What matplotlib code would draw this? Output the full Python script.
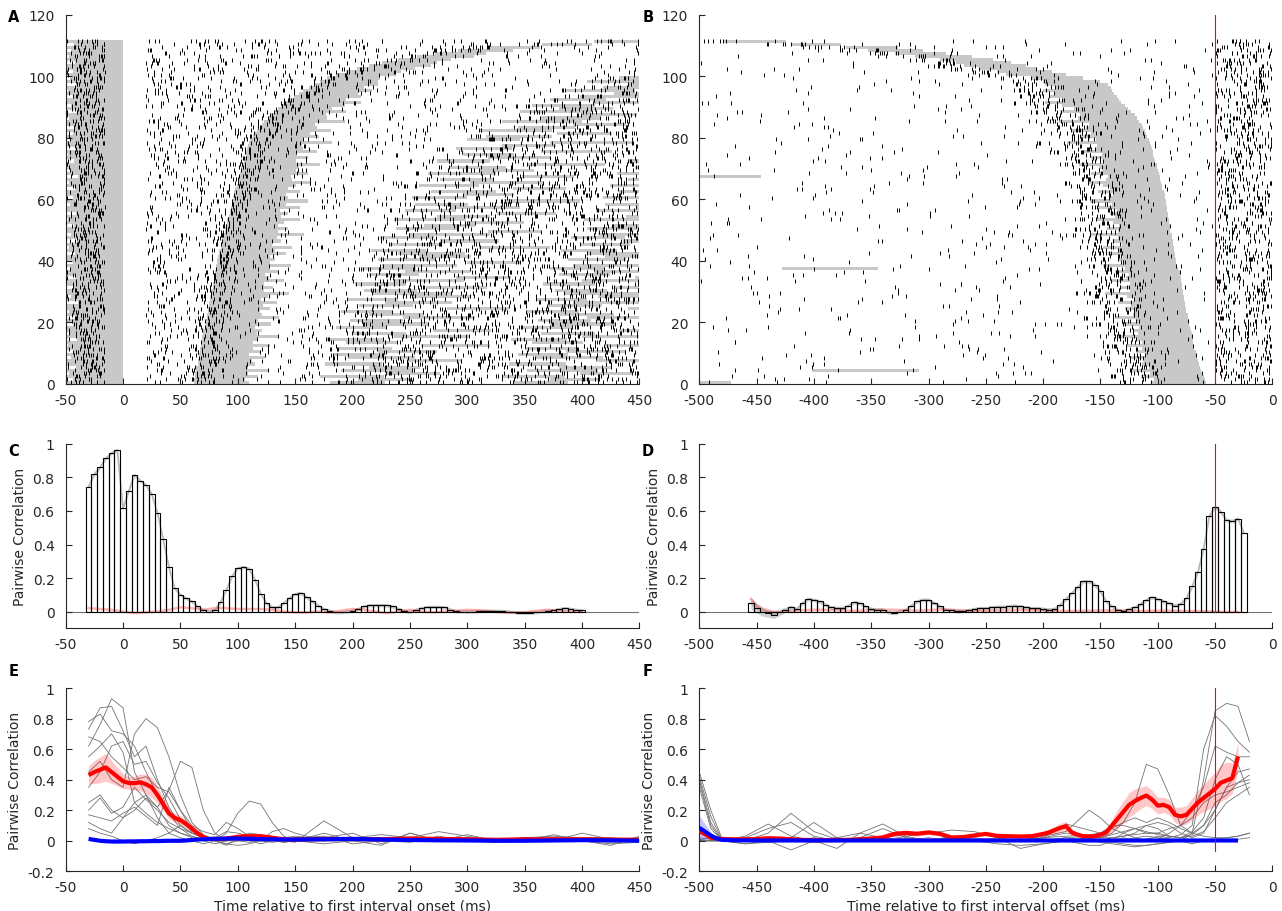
import numpy as np
import matplotlib
matplotlib.use("Agg")
import matplotlib.pyplot as plt
from matplotlib.collections import LineCollection
from matplotlib.ticker import FuncFormatter

plt.rcParams["font.family"] = ["DejaVu Sans"]
plt.rcParams["axes.unicode_minus"] = False

# ---------------------------------------------------------------- raster A
# per-trial start of the preceding (gray) interval, ms
prev_start_a = [-50, -44, -50, -47, -50, -41, -50, -50, -45, -50,
                -43, -50, -48, -50, -40, -50, -46, -50, -50, -44,
                -50, -42, -50, -47, -50, -50, -39, -50, -45, -50,
                -50, -43, -50, -48, -41, -50, -50, -46, -50, -44,
                -50, -50, -42, -50, -47, -50, -40, -50, -45, -50,
                -50, -43, -50, -48, -50, -41, -50, -50, -46, -50,
                -44, -50, -50, -42, -50, -47, -50, -39, -50, -45,
                -50, -50, -43, -50, -48, -50, -41, -50, -50, -46,
                -50, -44, -50, -42, -50, -50, -47, -50, -40, -50,
                -45, -50, -50, -43, -50, -48, -50, -41, -50, -46,
                -50, -44, -50, -50, -42, -50, -47, -50, -45, -50,
                -43, -50]
# per-trial onset of the next interval, ms
band_onset_a = [62, 62, 63, 63, 64, 64, 65, 65, 66, 66,
                67, 67, 68, 68, 69, 69, 70, 70, 71, 72,
                72, 73, 73, 74, 74, 75, 75, 76, 76, 77,
                77, 78, 78, 79, 79, 80, 80, 81, 81, 82,
                82, 83, 84, 84, 85, 86, 86, 87, 88, 89,
                89, 90, 91, 91, 92, 93, 93, 94, 95, 95,
                96, 97, 97, 98, 99, 100, 100, 101, 102, 103,
                103, 104, 105, 106, 107, 107, 108, 109, 110, 111,
                113, 115, 117, 119, 121, 123, 126, 129, 132, 135,
                138, 141, 145, 149, 153, 157, 162, 167, 172, 178,
                186, 194, 204, 214, 226, 240, 256, 272, 292, 318,
                365, 410]
# per-trial interval length, ms
band_len = [48, 44, 55, 46, 62, 45, 50, 47, 58, 44,
            52, 46, 60, 45, 49, 66, 47, 51, 44, 57,
            46, 63, 48, 45, 54, 47, 59, 44, 50, 68,
            46, 53, 45, 61, 48, 44, 56, 47, 65, 46,
            50, 45, 58, 48, 62, 44, 52, 47, 70, 46,
            55, 45, 49, 63, 46, 51, 44, 60, 47, 66,
            48, 45, 57, 46, 52, 64, 47, 45, 59, 48,
            50, 68, 46, 55, 45, 62, 49, 47, 72, 46,
            58, 48, 64, 50, 46, 70, 52, 48, 62, 47,
            55, 66, 49, 58, 52, 60, 48, 55, 50, 46,
            52, 48, 50, 54, 48, 46, 50, 44, 48, 45,
            44, 55]
# per-trial onsets of the two following intervals, ms (460 = outside window)
band2_onset_a = [180, 205, 172, 230, 190, 214, 176, 248, 196, 184,
                 222, 188, 260, 194, 178, 236, 200, 270, 186, 210,
                 198, 244, 214, 190, 282, 206, 228, 196, 252, 218,
                 210, 264, 202, 236, 290, 214, 246, 208, 226, 300,
                 222, 258, 240, 216, 310, 232, 276, 224, 250, 318,
                 238, 262, 300, 236, 274, 326, 246, 286, 254, 332,
                 252, 296, 268, 340, 258, 302, 276, 348, 266, 310,
                 284, 352, 274, 318, 296, 364, 290, 330, 372, 300,
                 316, 378, 310, 344, 392, 330, 364, 400, 346, 380,
                 356, 410, 372, 398, 428, 386, 418, 440, 404, 432,
                 460, 460, 460, 460, 460, 460, 460, 460, 460, 460,
                 460, 460]
band3_onset_a = [340, 372, 330, 398, 352, 380, 336, 412, 360, 344,
                 386, 350, 420, 356, 338, 400, 364, 432, 348, 372,
                 362, 404, 380, 352, 440, 370, 392, 360, 414, 384,
                 376, 428, 366, 400, 446, 380, 410, 372, 392, 455,
                 388, 420, 404, 382, 460, 398, 436, 390, 414, 460,
                 404, 426, 460, 402, 438, 460, 412, 448, 420, 460,
                 418, 458, 432, 460, 424, 460, 440, 460, 430, 460,
                 446, 460, 440, 460, 460, 460, 456, 460, 460, 460,
                 460, 460, 460, 460, 460, 460, 460, 460, 460, 460,
                 460, 460, 460, 460, 460, 460, 460, 460, 460, 460,
                 460, 460, 460, 460, 460, 460, 460, 460, 460, 460,
                 460, 460]

# ---------------------------------------------------------------- raster B
# per-trial offset of the first interval, ms (sorted trials)
band_offset_b = [-58, -59, -60, -61, -62, -63, -64, -65, -66, -67,
                 -67, -68, -68, -69, -69, -70, -70, -71, -72, -73,
                 -73, -74, -74, -75, -75, -76, -76, -77, -77, -78,
                 -78, -79, -79, -80, -80, -81, -81, -82, -83, -84,
                 -84, -85, -85, -86, -86, -87, -87, -88, -88, -89,
                 -89, -89, -90, -90, -91, -91, -92, -92, -93, -93,
                 -94, -94, -95, -96, -96, -97, -98, -98, -99, -100,
                 -101, -101, -102, -103, -104, -104, -105, -106, -107, -108,
                 -109, -110, -111, -113, -114, -116, -118, -120, -123, -126,
                 -129, -132, -134, -136, -138, -140, -141, -143, -150, -165,
                 -180, -192, -205, -215, -228, -244, -262, -285, -305, -327,
                 -376, -424]
extra_trial_b = [1, 5, 38, 68]
extra_start_b = [-500, -402, -428, -500]
extra_end_b = [-472, -308, -344, -446]

# spike densities (spikes per ms) for each epoch of a trial
rate_a = {"pre_edge": 0.10, "pre": 0.24, "early": 0.085, "onset": 0.22,
          "late": 0.05, "gap": 0.04, "tail": 0.145}
rate_b = {"base": 0.012, "onset": 0.20, "inside": 0.03, "post": 0.02, "end": 0.17}

# ---------------------------------------------------------------- panel C
hist_c_centers = np.arange(-30, 401, 5)
hist_c = [0.745, 0.82, 0.86, 0.915, 0.945, 0.965, 0.615, 0.72, 0.815, 0.78,
          0.755, 0.70, 0.59, 0.43, 0.265, 0.14, 0.10, 0.08, 0.06, 0.03,
          0.01, 0.0, 0.01, 0.055, 0.13, 0.21, 0.26, 0.265, 0.255, 0.19,
          0.105, 0.05, 0.025, 0.025, 0.05, 0.08, 0.105, 0.11, 0.085, 0.06,
          0.035, 0.015, 0.005, -0.005, -0.005, 0.0, 0.005, 0.015, 0.03, 0.037,
          0.038, 0.038, 0.036, 0.03, 0.015, 0.005, -0.003, 0.01, 0.02, 0.027,
          0.028, 0.028, 0.025, 0.012, 0.003, 0.0, 0.0, 0.0, 0.003, 0.005,
          0.005, 0.004, 0.003, 0.0, -0.003, -0.006, -0.007, -0.007, -0.005, 0.0,
          0.004, 0.008, 0.015, 0.02, 0.016, 0.01, 0.007]
shuffle_c_t = np.arange(-30, 401, 10)
shuffle_c = [0.02, 0.015, 0.01, 0.0, -0.01, -0.005, 0.0, 0.01, 0.025, 0.02,
             0.01, 0.02, 0.02, 0.015, 0.015, 0.015, 0.01, 0.0, -0.005, -0.005,
             0.0, -0.005, 0.005, 0.015, 0.01, 0.0, -0.01, 0.0, 0.01, 0.0,
             -0.005, 0.0, 0.005, 0.01, 0.008, 0.0, -0.005, -0.008, -0.005, 0.005,
             0.01, 0.005, 0.0, 0.0]
err_c = 0.01

# ---------------------------------------------------------------- panel D
hist_d_centers = np.arange(-455, -24, 5)
hist_d = [0.05, 0.02, 0.0, -0.008, -0.018, -0.005, 0.01, 0.025, 0.015, 0.05,
          0.075, 0.07, 0.06, 0.04, 0.025, 0.022, 0.02, 0.035, 0.055, 0.05,
          0.03, 0.015, 0.012, 0.012, -0.005, -0.008, 0.0, 0.01, 0.035, 0.06,
          0.07, 0.07, 0.05, 0.03, 0.01, 0.008, 0.002, 0.003, 0.008, 0.015,
          0.02, 0.02, 0.025, 0.028, 0.028, 0.03, 0.035, 0.03, 0.025, 0.02,
          0.02, 0.015, 0.012, 0.015, 0.04, 0.075, 0.11, 0.145, 0.18, 0.18,
          0.16, 0.12, 0.06, 0.03, 0.01, 0.003, 0.015, 0.025, 0.045, 0.07,
          0.085, 0.075, 0.06, 0.05, 0.035, 0.045, 0.08, 0.15, 0.235, 0.375,
          0.57, 0.625, 0.595, 0.545, 0.54, 0.555, 0.47]
err_d_head = [0.035, 0.03, 0.028, 0.026, 0.024, 0.02, 0.016, 0.014]
err_d_rest = 0.011
shuffle_d_t = np.concatenate([[-455, -450, -445, -440], np.arange(-430, -20, 10)])
shuffle_d = [0.075, 0.035, 0.012, 0.0,
             -0.005, 0.003, 0.008, 0.01, 0.01, 0.008, 0.005, 0.005, 0.008, 0.01,
             0.01, 0.008, 0.005, 0.008, 0.012, 0.01, 0.006, 0.004, 0.005, 0.006,
             0.008, 0.01, 0.008, 0.006, 0.005, 0.004, 0.004, 0.005, 0.006, 0.006,
             0.005, 0.004, 0.004, 0.005, 0.005, 0.004, 0.003, 0.002, 0.0, -0.003,
             -0.002]

# ---------------------------------------------------------------- panel E
trace_e_t = [-30, -20, -10, 0, 10, 20, 30, 40, 50, 60, 70, 80, 90, 100, 110,
             120, 130, 140, 150, 175, 200, 225, 250, 275, 300, 325, 350, 375,
             400, 425, 450]
traces_e = [
    [0.62, 0.76, 0.93, 0.87, 0.45, 0.30, 0.22, 0.10, 0.05, 0.02, 0.0, -0.02, 0.0, 0.02, 0.01, 0.0, -0.01, 0.0, 0.01,
     0.0, 0.01, 0.0, 0.02, 0.0, 0.01, 0.0, 0.0, 0.01, 0.0, -0.01, 0.0],
    [0.78, 0.83, 0.72, 0.70, 0.62, 0.45, 0.30, 0.18, 0.08, 0.03, 0.0, 0.02, 0.06, 0.05, 0.03, 0.01, 0.0, 0.01, 0.0,
     0.02, 0.05, -0.02, 0.05, 0.0, 0.04, 0.0, 0.02, 0.03, 0.02, 0.02, 0.0],
    [0.73, 0.87, 0.88, 0.72, 0.55, 0.62, 0.40, 0.22, 0.10, 0.05, 0.02, 0.0, -0.02, 0.0, 0.02, 0.03, 0.02, 0.0, -0.01,
     0.13, 0.02, 0.0, -0.01, 0.03, 0.0, 0.01, 0.0, 0.04, 0.0, -0.02, -0.01],
    [0.45, 0.52, 0.40, 0.35, 0.70, 0.80, 0.74, 0.55, 0.30, 0.12, 0.04, 0.0, -0.03, 0.02, 0.05, 0.04, 0.02, 0.0, 0.0,
     0.0, 0.02, 0.04, 0.02, 0.06, 0.03, 0.0, 0.0, 0.0, 0.05, 0.01, 0.02],
    [0.25, 0.30, 0.20, 0.15, 0.20, 0.28, 0.22, 0.33, 0.52, 0.48, 0.20, 0.05, 0.0, 0.02, 0.0, -0.02, 0.0, 0.01, 0.02,
     0.03, -0.02, 0.0, 0.01, 0.0, 0.0, 0.0, 0.02, 0.0, 0.0, 0.0, 0.0],
    [0.12, 0.08, 0.05, 0.15, 0.25, 0.30, 0.15, 0.05, 0.02, 0.0, -0.02, 0.0, 0.05, 0.18, 0.26, 0.24, 0.12, 0.03, 0.0,
     0.02, 0.0, -0.03, 0.05, 0.0, 0.02, 0.01, 0.0, 0.02, 0.0, -0.03, 0.03],
    [0.68, 0.65, 0.55, 0.48, 0.40, 0.42, 0.35, 0.32, 0.20, 0.10, 0.06, 0.04, 0.12, 0.08, 0.03, 0.0, 0.02, 0.0, 0.0,
     0.05, 0.0, 0.02, 0.0, 0.0, 0.0, 0.0, 0.0, 0.0, 0.01, 0.0, 0.0],
    [0.55, 0.62, 0.70, 0.58, 0.25, 0.18, 0.12, 0.08, 0.05, 0.03, 0.01, 0.0, -0.02, -0.03, -0.02, 0.0, 0.06, 0.08, 0.05,
     0.0, 0.0, 0.0, 0.0, 0.01, 0.0, 0.0, 0.0, 0.0, 0.0, 0.0, 0.0],
    [0.20, 0.28, 0.18, 0.22, 0.35, 0.27, 0.20, 0.12, 0.08, 0.05, 0.02, 0.0, 0.0, 0.01, 0.0, 0.01, 0.0, -0.01, 0.0,
     0.0, 0.0, 0.02, 0.0, 0.0, 0.0, -0.01, 0.0, 0.0, 0.0, 0.0, 0.0],
    [0.17, 0.15, 0.13, 0.18, 0.22, 0.16, 0.10, 0.35, 0.20, 0.07, 0.02, 0.0, 0.01, 0.0, -0.01, 0.0, 0.0, 0.02, 0.03,
     0.01, 0.0, 0.0, 0.0, 0.0, 0.0, 0.0, 0.0, 0.0, 0.0, 0.0, 0.0],
    [0.08, 0.05, 0.03, 0.0, -0.02, 0.0, 0.02, 0.05, 0.10, 0.05, 0.02, 0.0, 0.0, 0.01, 0.02, 0.0, 0.0, 0.0, 0.0,
     -0.02, 0.0, 0.0, 0.01, 0.0, 0.0, 0.0, 0.0, 0.0, 0.0, 0.0, 0.01],
    [0.35, 0.45, 0.62, 0.65, 0.50, 0.52, 0.38, 0.28, 0.14, 0.06, 0.03, 0.01, 0.0, 0.0, 0.01, 0.02, 0.01, -0.01, 0.0,
     0.0, 0.01, 0.0, 0.0, 0.0, 0.0, 0.0, 0.0, 0.0, 0.0, 0.0, 0.0],
]
mean_e_t = np.concatenate([np.arange(-30, 151, 5), np.arange(175, 451, 25)])
mean_e_red = [0.43, 0.45, 0.465, 0.48, 0.45, 0.42, 0.39, 0.378, 0.377, 0.383,
              0.37, 0.35, 0.30, 0.24, 0.18, 0.15, 0.135, 0.11, 0.08, 0.05,
              0.025, 0.012, 0.012, 0.012, 0.015, 0.02, 0.026, 0.03, 0.03, 0.03,
              0.03, 0.025, 0.02, 0.015, 0.01, 0.008, 0.008,
              0.012, 0.012, 0.01, 0.015, 0.012, 0.01, 0.006, 0.01, 0.01, 0.01, 0.008, 0.006]
err_e_red = [0.06, 0.075, 0.085, 0.09, 0.075, 0.06, 0.05, 0.04, 0.045, 0.055,
             0.065, 0.065, 0.055, 0.045, 0.035, 0.03, 0.03, 0.025, 0.02, 0.015,
             0.012, 0.01, 0.01, 0.01, 0.01, 0.01, 0.01, 0.01, 0.01, 0.01,
             0.01, 0.01, 0.008, 0.008, 0.008, 0.008, 0.008,
             0.008, 0.008, 0.008, 0.008, 0.008, 0.008, 0.008, 0.008, 0.008, 0.008, 0.008, 0.008]
mean_e_blue = [0.012, 0.006, 0.0, -0.003, -0.005, -0.005, -0.005, -0.004, -0.004, -0.003,
               -0.003, -0.002, -0.002, -0.001, 0.0, 0.0, 0.0, 0.002, 0.005, 0.008,
               0.01, 0.012, 0.013, 0.013, 0.014, 0.015, 0.015, 0.014, 0.013, 0.012,
               0.011, 0.01, 0.01, 0.009, 0.009, 0.008, 0.008,
               0.01, 0.012, 0.008, 0.005, 0.003, 0.002, 0.0, 0.0, 0.002, 0.004, 0.003, 0.0]
err_e_blue = 0.005

# ---------------------------------------------------------------- panel F
trace_f_t = [-500, -490, -480, -460, -440, -420, -400, -380, -360, -340, -320,
             -300, -280, -260, -240, -220, -200, -180, -160, -150, -140, -130,
             -120, -110, -100, -90, -80, -70, -60, -50, -40, -30, -20]
traces_f = [
    [0.45, 0.20, 0.01, 0.00, 0.02, 0.00, -0.01, 0.00, 0.02, 0.00, 0.01, 0.00, 0.02, 0.00, 0.01, 0.00, 0.02, 0.03, 0.04,
     0.05, 0.08, 0.12, 0.25, 0.50, 0.47, 0.30, 0.10, 0.05, 0.03, 0.02, 0.02, 0.03, 0.05],
    [0.42, 0.16, 0.0, 0.0, 0.05, 0.18, 0.06, 0.01, 0.0, 0.01, 0.0, 0.02, 0.0, 0.01, 0.0, 0.0, 0.01, 0.0, 0.02,
     0.0, 0.01, 0.0, 0.02, 0.03, 0.02, 0.01, 0.0, 0.05, 0.40, 0.85, 0.90, 0.88, 0.65],
    [0.40, 0.12, 0.0, 0.03, 0.11, 0.03, 0.0, 0.02, 0.0, 0.0, 0.01, 0.0, 0.0, 0.02, 0.0, 0.01, 0.0, 0.02, 0.0,
     0.01, 0.0, 0.02, 0.0, 0.01, 0.03, 0.02, 0.04, 0.10, 0.60, 0.82, 0.75, 0.65, 0.58],
    [0.38, 0.10, 0.0, 0.0, 0.0, 0.02, 0.12, 0.02, 0.0, 0.0, 0.0, 0.01, 0.0, 0.0, 0.02, 0.0, 0.0, 0.01, 0.0,
     0.0, 0.02, 0.03, 0.04, 0.05, 0.05, 0.08, 0.10, 0.20, 0.35, 0.62, 0.58, 0.55, 0.55],
    [0.35, 0.08, 0.0, 0.0, 0.01, 0.0, 0.0, 0.0, 0.0, 0.02, 0.0, 0.0, 0.03, 0.0, 0.0, 0.0, 0.02, 0.05, 0.03,
     0.02, 0.04, 0.06, 0.08, 0.10, 0.12, 0.10, 0.05, 0.02, 0.05, 0.20, 0.35, 0.45, 0.47],
    [0.05, 0.03, 0.0, -0.02, 0.0, 0.0, 0.0, 0.02, 0.05, 0.11, 0.03, 0.0, 0.01, 0.0, 0.0, 0.01, 0.0, 0.0, 0.02,
     0.02, 0.05, 0.12, 0.15, 0.12, 0.15, 0.12, 0.08, 0.05, 0.10, 0.25, 0.30, 0.38, 0.43],
    [0.02, 0.01, 0.0, 0.0, 0.0, -0.06, 0.0, -0.05, 0.05, 0.02, 0.0, 0.0, 0.02, 0.0, 0.0, 0.0, 0.02, 0.11, 0.07,
     0.05, 0.10, 0.10, 0.08, 0.05, 0.05, 0.03, 0.02, 0.04, 0.10, 0.20, 0.35, 0.38, 0.40],
    [0.0, 0.0, 0.0, 0.02, 0.08, 0.12, 0.03, 0.0, 0.0, 0.0, 0.02, 0.0, 0.0, 0.0, 0.01, 0.0, 0.03, 0.06, 0.20,
     0.15, 0.08, 0.05, 0.02, 0.0, 0.01, 0.05, 0.10, 0.15, 0.25, 0.30, 0.32, 0.35, 0.38],
    [0.01, 0.0, 0.0, 0.0, 0.0, 0.0, 0.02, 0.0, 0.0, 0.0, 0.03, 0.05, 0.07, 0.06, 0.02, -0.05, -0.02, 0.0, -0.03,
     -0.03, 0.0, 0.05, 0.08, 0.06, 0.04, 0.03, 0.02, 0.03, 0.06, 0.15, 0.25, 0.30, 0.35],
    [0.0, 0.0, 0.0, -0.02, -0.01, 0.0, 0.0, 0.0, 0.0, 0.0, 0.0, 0.0, 0.0, 0.0, -0.02, -0.03, -0.02, 0.0, 0.0,
     -0.01, -0.02, -0.03, -0.04, -0.03, -0.02, -0.01, 0.0, -0.02, 0.0, 0.01, 0.02, 0.03, 0.05],
    [0.0, 0.0, 0.0, 0.0, 0.0, 0.0, 0.0, 0.0, 0.0, 0.02, 0.04, 0.06, 0.02, 0.0, 0.0, 0.0, 0.0, 0.0, 0.01,
     0.0, -0.01, -0.02, -0.03, -0.03, -0.02, -0.01, 0.0, 0.0, 0.0, 0.0, 0.01, 0.01, 0.02],
    [0.0, 0.0, 0.0, 0.0, 0.0, 0.0, 0.0, 0.0, 0.02, 0.08, 0.02, 0.0, 0.0, 0.0, 0.0, 0.0, 0.0, 0.02, 0.03,
     0.02, 0.02, 0.03, 0.05, 0.10, 0.08, 0.03, 0.02, 0.06, 0.15, 0.40, 0.55, 0.50, 0.30],
]
mean_f_t = np.concatenate([np.arange(-500, -199, 10), np.arange(-195, -29, 5)])
mean_f_red = [0.065, 0.02, 0.012, 0.01, 0.01, 0.012, 0.017, 0.015, 0.01, 0.006,
              0.004, 0.004, 0.005, 0.006, 0.01, 0.015, 0.022, 0.045, 0.052, 0.046,
              0.055, 0.045, 0.022, 0.024, 0.035, 0.045, 0.032, 0.03, 0.028, 0.03,
              0.045,
              0.055, 0.07, 0.085, 0.095, 0.055, 0.04, 0.03, 0.028, 0.03, 0.04,
              0.055, 0.10, 0.145, 0.19, 0.235, 0.26, 0.28, 0.296, 0.27, 0.23,
              0.235, 0.22, 0.17, 0.16, 0.17, 0.21, 0.25, 0.28, 0.31, 0.34,
              0.38, 0.395, 0.41, 0.55]
err_f_red = [0.02, 0.01, 0.008, 0.008, 0.008, 0.008, 0.008, 0.008, 0.008, 0.008,
             0.008, 0.008, 0.008, 0.008, 0.008, 0.01, 0.01, 0.015, 0.015, 0.015,
             0.015, 0.012, 0.01, 0.01, 0.01, 0.01, 0.01, 0.01, 0.01, 0.01,
             0.012,
             0.015, 0.025, 0.03, 0.03, 0.02, 0.015, 0.012, 0.012, 0.012, 0.015,
             0.02, 0.04, 0.06, 0.07, 0.08, 0.08, 0.07, 0.065, 0.06, 0.055,
             0.05, 0.05, 0.05, 0.06, 0.06, 0.07, 0.08, 0.09, 0.10, 0.11,
             0.12, 0.12, 0.10, 0.09]
blue_f_t = [-500, -495, -490, -485, -480, -470, -450, -400, -350, -300, -250,
            -200, -150, -100, -50, -30]
mean_f_blue = [0.085, 0.06, 0.035, 0.015, 0.006, 0.003, 0.002, 0.002, 0.002,
               0.002, 0.002, 0.002, 0.002, 0.002, 0.002, 0.002]
err_f_blue = [0.08, 0.05, 0.02, 0.01, 0.006, 0.004, 0.004, 0.004, 0.004,
              0.004, 0.004, 0.004, 0.004, 0.004, 0.004, 0.004]

marker_time = -50

GRAY_BAR = "#c8c8c8"
AX_COL = "0.15"


def fmt(v, pos):
    return f"{v:g}"


def style(ax):
    for s in ("top", "right"):
        ax.spines[s].set_visible(False)
    for s in ("left", "bottom"):
        ax.spines[s].set_color(AX_COL)
        ax.spines[s].set_linewidth(0.8)
    ax.tick_params(direction="in", length=4, width=0.8, colors=AX_COL, labelsize=10)
    ax.tick_params(axis="x", pad=6.5)
    ax.tick_params(axis="y", pad=8)
    ax.xaxis.set_major_formatter(FuncFormatter(fmt))
    ax.yaxis.set_major_formatter(FuncFormatter(fmt))


def hash01(a):
    # deterministic scatter in [0, 1) used to place ticks inside an epoch
    return (np.sin(np.asarray(a, float) * 12.9898) * 43758.5453) % 1.0


def draw_spikes(ax, per_trial_segments, xlo, xhi):
    segs = []
    for i, seglist in enumerate(per_trial_segments, start=1):
        for j, (a, b, r) in enumerate(seglist):
            a, b = max(a, xlo), min(b, xhi)
            if b <= a:
                continue
            n = int(r * (b - a) + hash01(i * 7.31 + j * 3.17 + 0.5))
            if n <= 0:
                continue
            xs = a + (b - a) * hash01(i * 101.3 + j * 17.7 + np.arange(n) * 1.618 + 0.37)
            for x in xs:
                segs.append([(x, i - 1.15), (x, i + 0.15)])
    lc = LineCollection(segs, colors="black", linewidths=0.7, zorder=3)
    ax.add_collection(lc)


fig = plt.figure(figsize=(12.82, 9.12), dpi=100)
ax_a = fig.add_axes([0.0512, 0.5779, 0.4476, 0.4046])
ax_b = fig.add_axes([0.5455, 0.5779, 0.4470, 0.4046])
ax_c = fig.add_axes([0.0512, 0.3100, 0.4476, 0.2021])
ax_d = fig.add_axes([0.5455, 0.3100, 0.4470, 0.2021])
ax_e = fig.add_axes([0.0512, 0.0435, 0.4476, 0.2010])
ax_f = fig.add_axes([0.5455, 0.0435, 0.4470, 0.2010])

# ---------------- A: raster aligned to interval onset
n_trials = len(band_onset_a)
rows = np.arange(1, n_trials + 1) - 0.5
prev = np.array(prev_start_a, float)
on1 = np.array(band_onset_a, float)
dur = np.array(band_len, float)
on2 = np.array(band2_onset_a, float)
on3 = np.array(band3_onset_a, float)
ax_a.barh(rows, 0 - prev, left=prev, height=1.0, color=GRAY_BAR, lw=0, zorder=1)
for onset in (on1, on2, on3):
    ax_a.barh(rows, dur, left=onset, height=1.0, color=GRAY_BAR, lw=0, zorder=1)
segs_a = []
for L, D, B2 in zip(on1, dur, on2):
    segs_a.append([(-50, -42, rate_a["pre_edge"]), (-42, -16, rate_a["pre"]),
                   (20, L - 8, rate_a["early"]), (L - 8, L + 18, rate_a["onset"]),
                   (L + 18, L + D, rate_a["late"]), (L + D, B2 - 15, rate_a["gap"]),
                   (B2 - 15, 450, rate_a["tail"])])
draw_spikes(ax_a, segs_a, -50, 450)
ax_a.set_xlim(-50, 450)
ax_a.set_ylim(0, 120)
ax_a.set_xticks(np.arange(-50, 451, 50))
ax_a.set_yticks(np.arange(0, 121, 20))
style(ax_a)

# ---------------- B: raster aligned to interval offset
off = np.array(band_offset_b, float)
ax_b.barh(rows, dur, left=off - dur, height=1.0, color=GRAY_BAR, lw=0, zorder=1)
for tr, s, e in zip(extra_trial_b, extra_start_b, extra_end_b):
    ax_b.barh(tr - 0.5, e - s, left=s, height=1.0, color=GRAY_BAR, lw=0, zorder=1)
segs_b = []
for E, D in zip(off, dur):
    S = E - D
    segs_b.append([(-500, S - 28, rate_b["base"]), (S - 28, S + 10, rate_b["onset"]),
                   (S + 10, E, rate_b["inside"]), (E, marker_time, rate_b["post"]),
                   (marker_time, 0, rate_b["end"])])
draw_spikes(ax_b, segs_b, -500, 0)
ax_b.plot([marker_time, marker_time], [0, 120], color="red", lw=0.8, zorder=4)
ax_b.set_xlim(-500, 0)
ax_b.set_ylim(0, 120)
ax_b.set_xticks(np.arange(-500, 1, 50))
ax_b.set_yticks(np.arange(0, 121, 20))
style(ax_b)


# ---------------- C / D: pairwise correlation histograms
def corr_hist(ax, centers, vals, err, sh_t, sh_v, xlim, xticks):
    vals = np.asarray(vals, float)
    ax.axhline(0, color="0.45", lw=0.8, zorder=1)
    ax.fill_between(centers, vals - err, vals + err, color="0.82", lw=0, zorder=1.5)
    ax.plot(centers, vals, color="0.72", lw=1.2, zorder=1.6)
    ax.plot(sh_t, sh_v, color="red", alpha=0.3, lw=1.8, zorder=1.7)
    ax.bar(centers, vals, width=5, facecolor="none", edgecolor="black",
           lw=0.8, zorder=2)
    ax.set_xlim(*xlim)
    ax.set_ylim(-0.1, 1)
    ax.set_xticks(xticks)
    ax.set_yticks(np.arange(0, 1.01, 0.2))
    ax.set_ylabel("Pairwise Correlation", fontsize=10, color=AX_COL, labelpad=4)
    style(ax)


corr_hist(ax_c, hist_c_centers, hist_c, err_c, shuffle_c_t, shuffle_c,
          (-50, 450), np.arange(-50, 451, 50))
err_d = np.full(len(hist_d), err_d_rest)
err_d[:len(err_d_head)] = err_d_head
corr_hist(ax_d, hist_d_centers, hist_d, err_d, shuffle_d_t, shuffle_d,
          (-500, 0), np.arange(-500, 1, 50))
ax_d.plot([marker_time, marker_time], [0, 1.0], color="red", lw=0.8, zorder=4)


# ---------------- E / F: per-pair traces and means
def corr_traces(ax, tt, traces, tm, red, red_err, tb, blue, blue_err, xlim, xticks, xlabel):
    for tr in traces:
        ax.plot(tt, tr, color="0.45", lw=0.6, zorder=1)
    red = np.asarray(red, float)
    blue = np.asarray(blue, float)
    ax.fill_between(tm, red - np.asarray(red_err), red + np.asarray(red_err),
                    color="red", alpha=0.22, lw=0, zorder=2)
    ax.fill_between(tb, blue - np.asarray(blue_err), blue + np.asarray(blue_err),
                    color="blue", alpha=0.22, lw=0, zorder=2)
    ax.plot(tm, red, color="red", lw=3.0, zorder=3, solid_capstyle="butt")
    ax.plot(tb, blue, color="blue", lw=3.0, zorder=4, solid_capstyle="butt")
    ax.set_xlim(*xlim)
    ax.set_ylim(-0.2, 1)
    ax.set_xticks(xticks)
    ax.set_yticks(np.arange(-0.2, 1.01, 0.2))
    ax.set_ylabel("Pairwise Correlation", fontsize=10, color=AX_COL, labelpad=4)
    ax.set_xlabel(xlabel, fontsize=10, color=AX_COL, labelpad=3)
    style(ax)


corr_traces(ax_e, trace_e_t, traces_e, mean_e_t, mean_e_red, err_e_red,
            mean_e_t, mean_e_blue, np.full(len(mean_e_blue), err_e_blue),
            (-50, 450), np.arange(-50, 451, 50),
            "Time relative to first interval onset (ms)")
corr_traces(ax_f, trace_f_t, traces_f, mean_f_t, mean_f_red, err_f_red,
            blue_f_t, mean_f_blue, err_f_blue,
            (-500, 0), np.arange(-500, 1, 50),
            "Time relative to first interval offset (ms)")
ax_f.plot([marker_time, marker_time], [-0.07, 1.0], color="red", lw=0.8, zorder=5)

# panel letters
for letter, x, y in [("A", 14, 17), ("B", 648, 17), ("C", 14, 451),
                     ("D", 648, 451), ("E", 14, 672), ("F", 648, 672)]:
    fig.text(x / 1282, 1 - y / 912, letter, fontsize=10.5, fontweight="bold",
             ha="center", va="center", color="black")

fig.savefig("out.png", dpi=100)
